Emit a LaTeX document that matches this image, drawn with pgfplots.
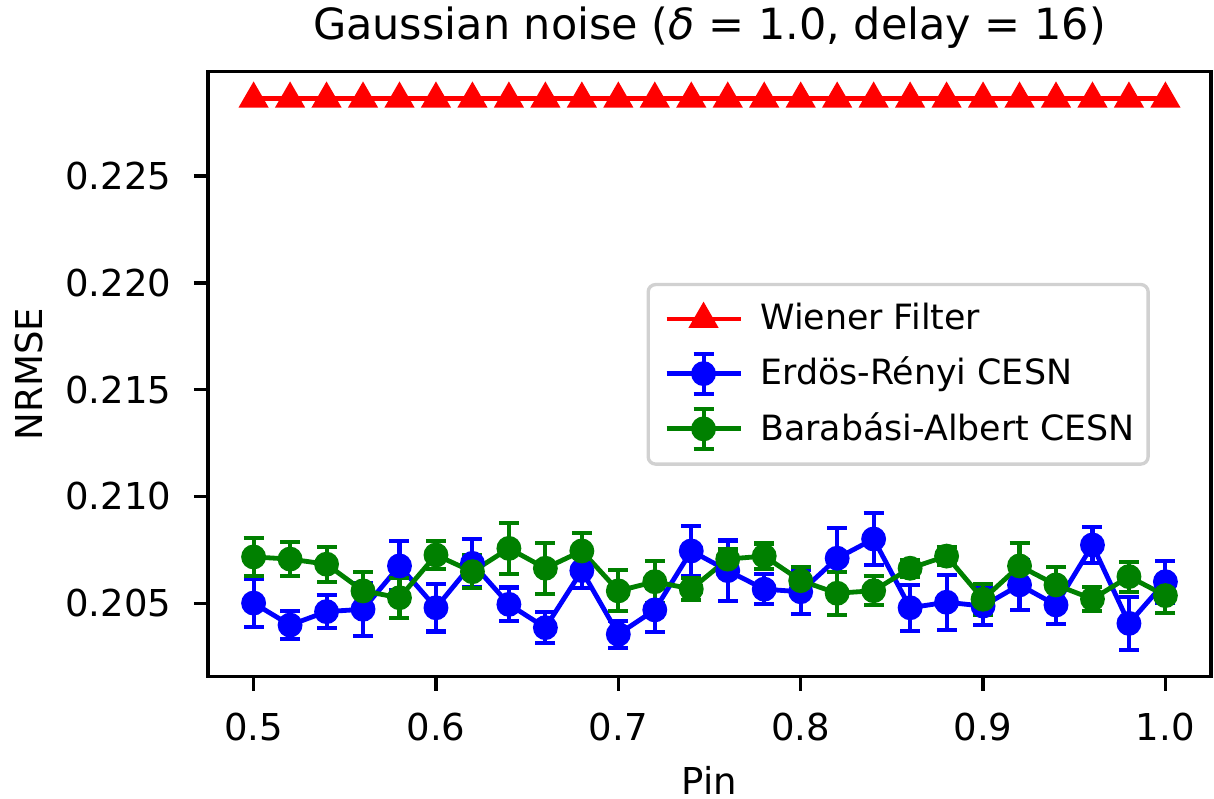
\documentclass[border=0pt]{standalone}
\usepackage{fontspec}
\setmainfont{DejaVu Sans}
\usepackage{pgfplots}
\pgfplotsset{compat=1.18}
\definecolor{mgreen}{rgb}{0,0.5,0}
\pgfplotsset{
  lineleg/.style={legend image code/.code={\path (0pt,0pt); \draw[##1] (3.2pt,0pt)--(23.2pt,0pt); \draw[##1] plot[only marks] coordinates {(13.2pt,0pt)};}},
  errleg/.style={legend image code/.code={\path (0pt,0pt); \draw[##1] (3.2pt,0pt)--(23.2pt,0pt);
    \draw[##1,line width=1.1pt] (13.2pt,-5.4pt)--(13.2pt,5.4pt) (10.5pt,-5.4pt)--(15.9pt,-5.4pt) (10.5pt,5.4pt)--(15.9pt,5.4pt);
    \draw[##1] plot[only marks] coordinates {(13.2pt,0pt)};}},
}
\begin{document}
\begin{tikzpicture}
\begin{axis}[
  scale only axis,
  width=270.8pt, height=163.35pt,
  xmin=0.475, xmax=1.025,
  ymin=0.20156, ymax=0.22989,
  axis line style={line width=0.9pt},
  tick style={line width=0.9pt, black},
  tick align=outside,
  major tick length=3.8pt,
  xtick={0.5,0.6,0.7,0.8,0.9,1.0},
  ytick={0.205,0.210,0.215,0.220,0.225},
  xtick pos=bottom, ytick pos=left,
  font=\fontsize{10}{12}\selectfont,
  /pgf/number format/assume math mode=true,
  xticklabel style={/pgf/number format/.cd, fixed, fixed zerofill, precision=1, /tikz/.cd, anchor=north, inner sep=0pt, yshift=-5.9pt},
  yticklabel style={/pgf/number format/.cd, fixed, fixed zerofill, precision=3, /tikz/.cd, anchor=east, inner sep=0pt, xshift=-5.9pt},
  scaled y ticks=false,
  title={Gaussian noise ({\itshape δ} = 1.0, delay = 16)},
  title style={at={(0.5,1)}, anchor=base, yshift=2.6pt, font=\fontsize{11.6}{14}\selectfont},
  xlabel={Pin},
  ylabel={NRMSE},
  xlabel style={at={(0.5,0)}, anchor=base, yshift=-31.7pt},
  every axis y label/.style={at={(rel axis cs:0,0.5)}, xshift=-48.3pt, rotate=90, anchor=center},
  legend cell align=left,
  legend style={at={(0.939,0.651)}, anchor=north east, draw=black!18, line width=0.9pt, rounded corners=2pt,
    font=\fontsize{9.4}{11}\selectfont, row sep=1.9pt, column sep=2.2pt, inner xsep=1.1pt, inner ysep=3pt,
    nodes={inner xsep=2.5pt}},
]
\addplot[red, line width=1.3pt, mark=triangle*, mark size=3.4pt, mark options={solid}, lineleg]
coordinates {
(0.50,0.22862)(0.52,0.22862)(0.54,0.22862)(0.56,0.22862)(0.58,0.22862)(0.60,0.22862)
(0.62,0.22862)(0.64,0.22862)(0.66,0.22862)(0.68,0.22862)(0.70,0.22862)(0.72,0.22862)
(0.74,0.22862)(0.76,0.22862)(0.78,0.22862)(0.80,0.22862)(0.82,0.22862)(0.84,0.22862)
(0.86,0.22862)(0.88,0.22862)(0.90,0.22862)(0.92,0.22862)(0.94,0.22862)(0.96,0.22862)
(0.98,0.22862)(1.00,0.22862)};
\addlegendentry{Wiener Filter}

\addplot[blue, line width=1.3pt, mark=*, mark size=2.7pt, mark options={solid}, errleg,
  error bars/.cd, y dir=both, y explicit,
  error bar style={line width=1.1pt},
  error mark options={line width=1.1pt, mark size=2.7pt, rotate=90}]
coordinates {
(0.50,0.20501) +- (0,0.00113)
(0.52,0.20398) +- (0,0.00067)
(0.54,0.20461) +- (0,0.00077)
(0.56,0.20472) +- (0,0.00123)
(0.58,0.20675) +- (0,0.00115)
(0.60,0.20479) +- (0,0.00111)
(0.62,0.20687) +- (0,0.00113)
(0.64,0.20495) +- (0,0.00079)
(0.66,0.20386) +- (0,0.00073)
(0.68,0.20653) +- (0,0.00080)
(0.70,0.20355) +- (0,0.00063)
(0.72,0.20469) +- (0,0.00104)
(0.74,0.20745) +- (0,0.00118)
(0.76,0.20653) +- (0,0.00141)
(0.78,0.20566) +- (0,0.00070)
(0.80,0.20554) +- (0,0.00104)
(0.82,0.20711) +- (0,0.00140)
(0.84,0.20801) +- (0,0.00120)
(0.86,0.20479) +- (0,0.00107)
(0.88,0.20505) +- (0,0.00128)
(0.90,0.20487) +- (0,0.00087)
(0.92,0.20586) +- (0,0.00116)
(0.94,0.20492) +- (0,0.00089)
(0.96,0.20773) +- (0,0.00085)
(0.98,0.20406) +- (0,0.00125)
(1.00,0.20601) +- (0,0.00098)};
\addlegendentry{Erdös-Rényi CESN}

\addplot[mgreen, line width=1.3pt, mark=*, mark size=2.7pt, mark options={solid}, errleg,
  error bars/.cd, y dir=both, y explicit,
  error bar style={line width=1.1pt},
  error mark options={line width=1.1pt, mark size=2.7pt, rotate=90}]
coordinates {
(0.50,0.20717) +- (0,0.00089)
(0.52,0.20707) +- (0,0.00080)
(0.54,0.20683) +- (0,0.00082)
(0.56,0.20558) +- (0,0.00089)
(0.58,0.20526) +- (0,0.00094)
(0.60,0.20726) +- (0,0.00064)
(0.62,0.20648) +- (0,0.00077)
(0.64,0.20757) +- (0,0.00120)
(0.66,0.20664) +- (0,0.00120)
(0.68,0.20745) +- (0,0.00084)
(0.70,0.20558) +- (0,0.00096)
(0.72,0.20601) +- (0,0.00098)
(0.74,0.20567) +- (0,0.00053)
(0.76,0.20707) +- (0,0.00045)
(0.78,0.20721) +- (0,0.00059)
(0.80,0.20606) +- (0,0.00063)
(0.82,0.20547) +- (0,0.00100)
(0.84,0.20559) +- (0,0.00067)
(0.86,0.20664) +- (0,0.00040)
(0.88,0.20721) +- (0,0.00043)
(0.90,0.20519) +- (0,0.00072)
(0.92,0.20675) +- (0,0.00106)
(0.94,0.20586) +- (0,0.00082)
(0.96,0.20520) +- (0,0.00056)
(0.98,0.20625) +- (0,0.00070)
(1.00,0.20536) +- (0,0.00082)};
\addlegendentry{Barabási-Albert CESN}
\end{axis}
\pgfresetboundingbox
\useasboundingbox ([shift={(-56.16pt,-32.75pt)}]current axis.south west) rectangle ([shift={(0.81pt,19.36pt)}]current axis.north east);
\end{tikzpicture}
\end{document}
